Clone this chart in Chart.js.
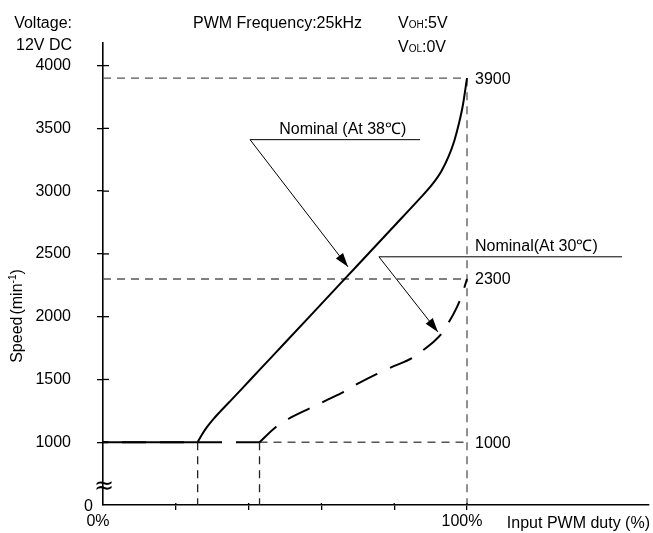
<!DOCTYPE html>
<html>
<head>
<meta charset="utf-8">
<script src="https://cdn.jsdelivr.net/npm/chart.js@4.4.1/dist/chart.umd.min.js"></script>
<style>
  html, body { margin: 0; padding: 0; background: #fff; }
</style>
</head>
<body>
<canvas id="speed-chart" width="653" height="533"></canvas>
<script>
// Input PWM duty (%) -> fan speed (min-1)
// Nominal at 38°C (solid line)
const duty38 = [26, 27.2, 28.6, 30.2, 32, 34.5, 38, 43, 50, 60, 70, 80, 87, 90.5, 93, 95, 96.5, 97.8, 98.9, 100];
const speed38 = [1000, 1062, 1122, 1180, 1238, 1314, 1421, 1576, 1792, 2102, 2412, 2722, 2940, 3055, 3160, 3280, 3400, 3540, 3690, 3900];

// Nominal at 30°C (dashed line)
const duty30 = [43, 47.5, 51, 57, 62, 66, 70, 75, 79, 85, 88, 91, 93, 95, 97, 98.5, 100];
const speed30 = [1000, 1122, 1187, 1273, 1343, 1400, 1466, 1540, 1594, 1672, 1735, 1805, 1865, 1955, 2062, 2165, 2300];

// both curves sit on the minimum speed below their start duty
const idleSpeed = 1000;
const idleDuty38 = [0, 26];
const idleDuty30 = [0, 43];

// axis ticks
const yTicks = [1000, 1500, 2000, 2500, 3000, 3500, 4000];
const xTicks = [0, 20, 40, 60, 80, 100];

const FONT = '"Liberation Sans", Arial, sans-serif';

function toPoints(xs, ys) {
    return xs.map((v, i) => ({ x: v, y: ys[i] }));
}

function drawArrow(c, x1, y1, x2, y2) {
    c.beginPath();
    c.moveTo(x1, y1);
    c.lineTo(x2, y2);
    c.stroke();
    const a = Math.atan2(y2 - y1, x2 - x1);
    const len = 14, half = 4.5;
    c.beginPath();
    c.moveTo(x2, y2);
    c.lineTo(x2 - len * Math.cos(a) + half * Math.sin(a), y2 - len * Math.sin(a) - half * Math.cos(a));
    c.lineTo(x2 - len * Math.cos(a) - half * Math.sin(a), y2 - len * Math.sin(a) + half * Math.cos(a));
    c.closePath();
    c.fill();
}

// callouts, in data units
const notes = [
    { text: 'Nominal (At 38\u2103)', from: 40.4, to: 87.1, at: 3410, textX: 48.4, tip: [67.3, 2397] },
    { text: 'Nominal(At 30\u2103)', from: 75.8, to: 142.6, at: 2477, textX: 102.2, tip: [92.0, 1879] }
];

// keep the tick label padding from growing the layout
function noExtraPadding(s) {
    s.paddingTop = 0;
    s.paddingBottom = 0;
    s.paddingLeft = 0;
    s.paddingRight = 0;
}

const guidePlugin = {
    id: 'guides',
    beforeDatasetsDraw(chart) {
        const c = chart.ctx;
        const x = chart.scales.x, y = chart.scales.y;
        const top38 = speed38[speed38.length - 1];
        const top30 = speed30[speed30.length - 1];
        c.save();
        c.strokeStyle = '#555';
        c.lineWidth = 1.3;
        c.setLineDash([8, 6]);
        const seg = (x1, y1, x2, y2) => {
            c.beginPath();
            c.moveTo(x.getPixelForValue(x1), y.getPixelForValue(y1));
            c.lineTo(x.getPixelForValue(x2), y.getPixelForValue(y2));
            c.stroke();
        };
        seg(0, top38, 100, top38);
        seg(0, top30, 100, top30);
        seg(idleDuty30[1], idleSpeed, 100, idleSpeed);
        seg(100, top38, 100, y.min);
        c.strokeStyle = '#222';
        seg(idleDuty38[1], idleSpeed, idleDuty38[1], y.min);
        seg(idleDuty30[1], idleSpeed, idleDuty30[1], y.min);
        c.restore();
    },
    afterDraw(chart) {
        const c = chart.ctx;
        const x = chart.scales.x, y = chart.scales.y;
        const ax = x.getPixelForValue(0), ay = y.getPixelForValue(y.min);
        c.save();
        c.fillStyle = '#000';
        c.strokeStyle = '#000';

        // inner half of the axis tick marks
        c.lineWidth = 1.3;
        yTicks.forEach(v => {
            const py = y.getPixelForValue(v);
            c.beginPath(); c.moveTo(ax, py); c.lineTo(ax + 6, py); c.stroke();
        });
        xTicks.slice(1).forEach(v => {
            const px = x.getPixelForValue(v);
            c.beginPath(); c.moveTo(px, ay); c.lineTo(px, ay - 2); c.stroke();
        });

        c.textBaseline = 'alphabetic';

        // axis break and origin label
        c.textAlign = 'center';
        c.font = '24px "DejaVu Sans", sans-serif';
        c.fillText('\u2248', ax + 1, ay - 12);
        c.font = '16px ' + FONT;
        c.textAlign = 'right';
        c.fillText('0', ax - 10, ay + 6);

        // header text
        c.fillText('Voltage:', 72, 28);
        c.fillText('12V DC', 72, 50);
        c.textAlign = 'left';
        c.fillText('PWM Frequency:25kHz', 193, 28);
        const sub = (base, small, rest, px, py) => {
            c.font = '16px ' + FONT;
            c.fillText(base, px, py);
            let w = c.measureText(base).width;
            c.font = '10px ' + FONT;
            c.fillText(small, px + w, py);
            w += c.measureText(small).width;
            c.font = '16px ' + FONT;
            c.fillText(rest, px + w, py);
        };
        sub('V', 'OH', ':5V', 398, 28);
        sub('V', 'OL', ':0V', 398, 52);

        // values at the right of the 100% line
        const rx = x.getPixelForValue(100) + 8;
        c.font = '16px ' + FONT;
        c.textBaseline = 'middle';
        [speed38[speed38.length - 1], speed30[speed30.length - 1], idleSpeed].forEach(v => {
            c.fillText(String(v), rx, y.getPixelForValue(v) + 1);
        });

        // x axis name
        c.textBaseline = 'alphabetic';
        c.textAlign = 'right';
        c.fillText('Input PWM duty (%)', 650, 528);

        // y axis name with superscript
        c.save();
        c.translate(17, 316);
        c.rotate(-Math.PI / 2);
        const parts = [['Speed', 16, 0], ['(min', 16, 0], ['-1', 10, -6], [')', 16, 0]];
        let total = 0;
        parts.forEach(p => { c.font = p[1] + 'px ' + FONT; total += c.measureText(p[0]).width; });
        total += 2;
        let cx = -total / 2;
        c.textAlign = 'left';
        parts.forEach((p, i) => {
            c.font = p[1] + 'px ' + FONT;
            c.fillText(p[0], cx, 5 + p[2]);
            cx += c.measureText(p[0]).width + (i === 0 ? 2 : 0);
        });
        c.restore();

        // callouts with arrows
        c.lineWidth = 1;
        c.setLineDash([]);
        c.font = '16px ' + FONT;
        c.textAlign = 'left';
        notes.forEach(n => {
            const ly = y.getPixelForValue(n.at);
            const lx = x.getPixelForValue(n.from);
            c.beginPath();
            c.moveTo(lx, ly);
            c.lineTo(x.getPixelForValue(n.to), ly);
            c.stroke();
            c.fillText(n.text, x.getPixelForValue(n.textX), ly - 6);
            drawArrow(c, lx, ly, x.getPixelForValue(n.tip[0]), y.getPixelForValue(n.tip[1]));
        });
        c.restore();
    }
};

const ctx = document.getElementById('speed-chart').getContext('2d');
const speedChart = new Chart(ctx, {
    type: 'line',
    data: {
        datasets: [
            {
                label: 'Idle 30',
                data: toPoints(idleDuty30, idleDuty30.map(() => idleSpeed)),
                borderColor: '#000',
                borderWidth: 2,
                borderDash: [24, 14],
                borderDashOffset: 19
            },
            {
                label: 'Nominal (At 30\u2103)',
                data: toPoints(duty30, speed30),
                borderColor: '#000',
                borderWidth: 2,
                borderDash: [24, 14],
                borderDashOffset: 1,
                cubicInterpolationMode: 'monotone'
            },
            {
                label: 'Idle 38',
                data: toPoints(idleDuty38, idleDuty38.map(() => idleSpeed)),
                borderColor: '#000',
                borderWidth: 2
            },
            {
                label: 'Nominal (At 38\u2103)',
                data: toPoints(duty38, speed38),
                borderColor: '#000',
                borderWidth: 2,
                cubicInterpolationMode: 'monotone'
            }
        ]
    },
    options: {
        responsive: false,
        animation: false,
        layout: { padding: { top: 43, right: 4, left: 0, bottom: 0 } },
        elements: { point: { radius: 0 } },
        plugins: {
            legend: { display: false },
            tooltip: { enabled: false }
        },
        scales: {
            x: {
                type: 'linear',
                min: 0,
                max: 150,
                afterBuildTicks: s => { s.ticks = xTicks.map(v => ({ value: v })); },
                afterFit: s => { s.height = 28; noExtraPadding(s); },
                ticks: {
                    color: '#000',
                    font: { size: 16, family: FONT },
                    padding: 2,
                    labelOffset: -5,
                    maxRotation: 0,
                    autoSkip: false,
                    callback: v => (v === 0 ? '0%' : v === 100 ? '100%' : '')
                },
                grid: {
                    drawOnChartArea: false,
                    tickLength: 5,
                    lineWidth: 1.3,
                    color: c => (c.tick && c.tick.value === 0 ? 'rgba(0,0,0,0)' : '#000')
                },
                border: { color: '#000', width: 1.6 }
            },
            y: {
                type: 'linear',
                min: 500,
                max: 4180,
                afterBuildTicks: s => { s.ticks = yTicks.map(v => ({ value: v })); },
                afterFit: s => { s.width = 103; noExtraPadding(s); },
                ticks: {
                    color: '#000',
                    font: { size: 16, family: FONT },
                    padding: 26,
                    autoSkip: false,
                    callback: v => String(v)
                },
                grid: {
                    drawOnChartArea: false,
                    tickLength: 6,
                    lineWidth: 1.3,
                    color: '#000'
                },
                border: { color: '#000', width: 1.6 }
            }
        }
    },
    plugins: [guidePlugin]
});
</script>
</body>
</html>
